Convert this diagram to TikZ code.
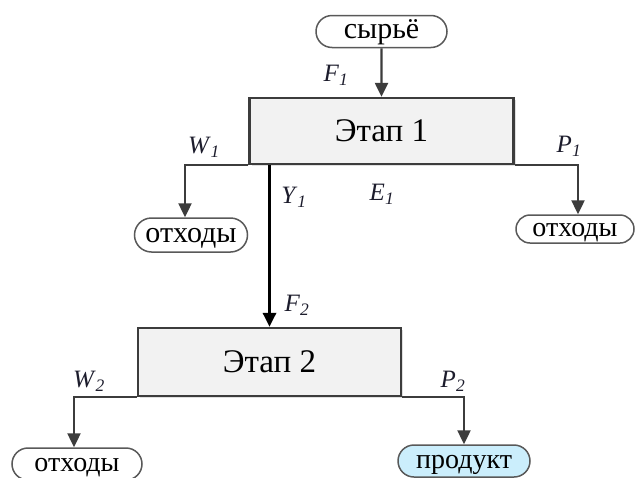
\documentclass[tikz,border=0pt]{standalone}
\usepackage{fontspec}
\setmainfont{Liberation Serif}
\usetikzlibrary{arrows.meta,shapes.misc,shadows}
\definecolor{linegray}{HTML}{3C3C3C}
\definecolor{boxfill}{HTML}{F2F2F2}
\definecolor{prodfill}{HTML}{CBEEFC}
\definecolor{lblcolor}{HTML}{1C1C2C}
\newcommand{\flowlbl}[2]{\textit{#1}\textsubscript{\textit{#2}}}
\tikzset{stage/.style={draw=linegray, line width=2.4pt, fill=boxfill, inner sep=0pt,
		minimum width=264pt, minimum height=66pt,
		drop shadow={shadow xshift=2pt, shadow yshift=-2pt, fill=black!25},
		font=\fontsize{33}{38}\selectfont},
	pill/.style={draw=linegray!85, line width=1.5pt, fill=white, rounded rectangle, inner sep=0pt,
		text height=18pt, text depth=4pt,
		minimum height=32pt, font=\fontsize{30}{34}\selectfont},
	flow/.style={draw=linegray, line width=2.4pt, -{Triangle[width=13pt,length=14pt]}},
	mainflow/.style={flow, draw=black, line width=3.2pt},
	lbl/.style={text=lblcolor, font=\fontsize{25}{29}\selectfont, inner sep=0pt}}

\begin{document}
\begin{tikzpicture}[x=1pt, y=-1pt]
		\useasboundingbox (0,0) rectangle (637,477);
		\clip (0,0) rectangle (637,477);
		% stages
		\node[stage] (stage1) at (381.5,131){Этап 1};
		\node[stage, minimum width=263pt, minimum height=68pt] (stage2) at (269.5,362){Этап 2};
		% inputs and outputs
		\node[pill, minimum width=131pt] (raw) at (381.5,31.5){сырьё};
		\node[pill, minimum width=113pt, minimum height=34pt] (w1out) at (191,235){отходы};
		\node[pill, minimum width=118pt, minimum height=28pt, font=\fontsize{28}{32}\selectfont] (p1out) at (575,229){отходы};
		\node[pill, minimum width=130pt, font=\fontsize{28}{32}\selectfont] (w2out) at (77,464){отходы};
		\node[pill, fill=prodfill, minimum width=132pt, font=\fontsize{28}{32}\selectfont] (product) at (464,461){продукт};
		% streams
		\draw[flow] (raw) -- (stage1);
		\draw[flow] (stage1.south west) -| ([xshift=-6pt]w1out.north);
		\draw[flow] (stage1.south east) -| ([xshift=3pt]p1out.north);
		\draw[mainflow] (stage1.south -| stage2.north) -- (stage2.north);
		\draw[flow] (stage2.south west) -| ([xshift=-3pt]w2out.north);
		\draw[flow] (stage2.south east) -| (product.north);
		% stream labels
		\node[lbl] (f1) at (336,75){\flowlbl{F}{1}};
		\node[lbl] (w1) at (204,147){\flowlbl{W}{1}};
		\node[lbl] (y1) at (294,197){\flowlbl{Y}{1}};
		\node[lbl] (e1) at (382,194){\flowlbl{E}{1}};
		\node[lbl] (p1) at (569,146){\flowlbl{P}{1}};
		\node[lbl] (f2) at (297,305){\flowlbl{F}{2}};
		\node[lbl] (w2) at (89,381){\flowlbl{W}{2}};
		\node[lbl] (p2) at (453,381){\flowlbl{P}{2}};
\end{tikzpicture}
\end{document}
